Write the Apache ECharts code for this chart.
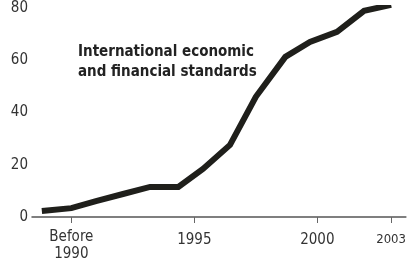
<!DOCTYPE html>
<html lang="en">
<head>
    <meta charset="UTF-8">
    <title>International economic and financial standards</title>
    <script src="https://cdn.jsdelivr.net/npm/echarts@6/dist/echarts.min.js"></script>
    <style>
        html, body { margin: 0; padding: 0; background: #fff; }
    </style>
</head>
<body>
<div id="chart" style="width: 409px;height:266px;"></div>

<script type="text/javascript">
    // data
    var years = [1988.8, 1990.0, 1991.0, 1992.1, 1993.2, 1994.35, 1995.35, 1996.45, 1997.5, 1998.7, 1999.7, 2000.8, 2001.9, 2003.0];
    var values = [2.3, 3.4, 6.1, 8.8, 11.5, 11.5, 18.4, 27.6, 46, 61.3, 67, 70.9, 78.9, 81.2];
    var tickYears = [1990, 1995, 2000, 2003];
    var tickNames = ['Before\n1990', '1995', '2000', '2003'];
    var label = 'International economic\nand financial standards';

    var font = "'Liberation Sans Narrow', 'DejaVu Sans Condensed', sans-serif";

    var chart = echarts.init(document.getElementById('chart'));
    var points = [];
    for (var i = 0; i < years.length; i++) {
        points.push([years[i], values[i]]);
    }

    var option = {
        animation: false,
        title: {
            text: label,
            left: 78,
            top: 42,
            padding: 0,
            textStyle: {
                fontFamily: font,
                fontSize: 15,
                fontWeight: 'bold',
                color: '#222',
                lineHeight: 20
            }
        },
        grid: {
            left: 32,
            right: 0,
            top: 8,
            bottom: 49
        },
        xAxis: {
            type: 'value',
            min: 1988.4,
            max: 2003.6,
            splitLine: {show: false},
            axisLine: {lineStyle: {color: '#555', width: 1.5}},
            axisTick: {
                customValues: tickYears,
                length: 6,
                lineStyle: {color: '#666', width: 1}
            },
            axisLabel: {
                customValues: tickYears,
                margin: 11,
                verticalAlign: 'top',
                fontFamily: font,
                fontSize: 15,
                color: '#333',
                formatter: function (v) {
                    var k = tickYears.indexOf(Math.round(v));
                    if (k === 0) {
                        return tickNames[k].split('\n').map(function (s) { return '{b|' + s + '}'; }).join('\n');
                    }
                    if (k === 3) return '{s|' + tickNames[k] + '}';
                    return '{n|' + tickNames[k] + '}';
                },
                rich: {
                    n: {fontFamily: font, fontSize: 15, color: '#333', lineHeight: 24},
                    b: {fontFamily: font, fontSize: 15, color: '#333', lineHeight: 17.5},
                    s: {fontFamily: font, fontSize: 13, color: '#333', lineHeight: 23}
                }
            }
        },
        yAxis: {
            type: 'value',
            min: 0,
            max: 80,
            interval: 20,
            splitLine: {show: false},
            axisLine: {show: false},
            axisTick: {show: false},
            axisLabel: {
                margin: 4,
                fontFamily: font,
                fontSize: 15,
                color: '#333'
            }
        },
        series: [{
            type: 'line',
            data: points,
            symbol: 'none',
            lineStyle: {color: '#1f1f1b', width: 6, cap: 'butt', join: 'miter'}
        }]
    };
    chart.setOption(option);
</script>
</body>
</html>
